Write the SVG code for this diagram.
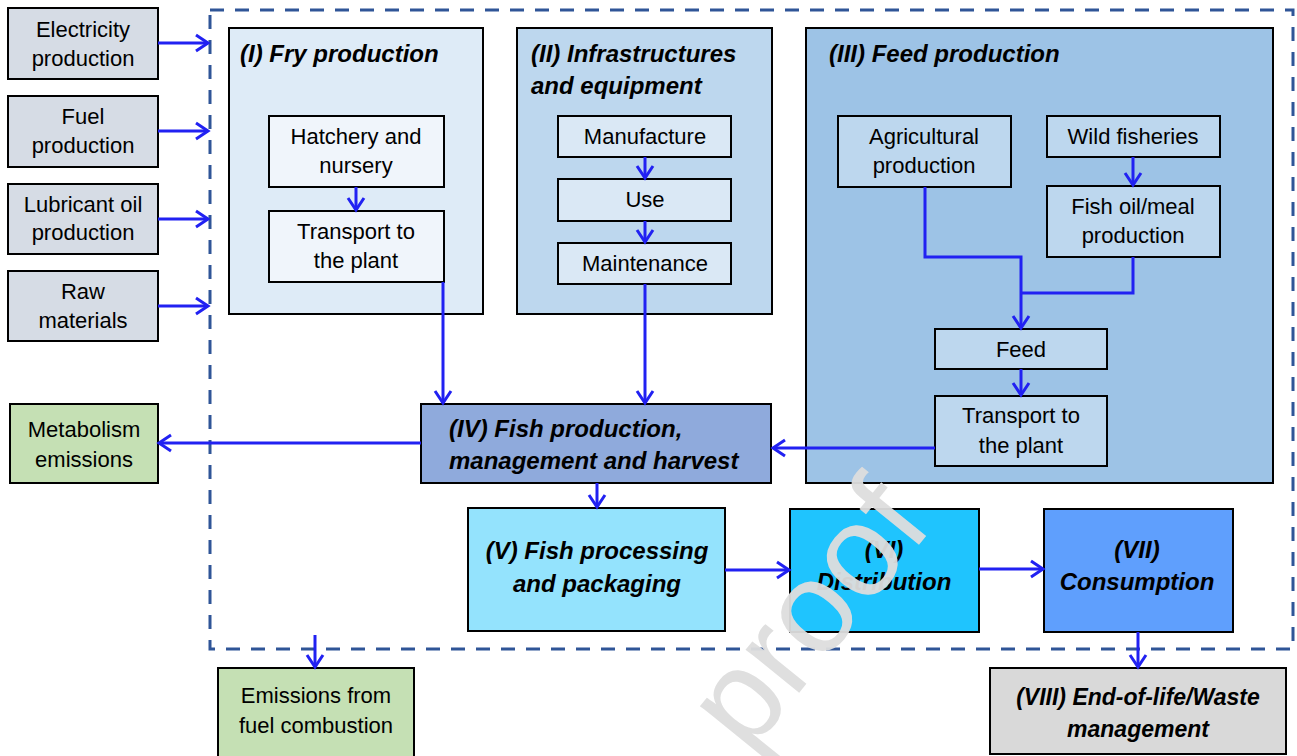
<svg xmlns="http://www.w3.org/2000/svg" width="1297" height="756" viewBox="0 0 1297 756">
<style>
.box{stroke:#000;stroke-width:2}
.t{font-family:"Liberation Sans",Arial,sans-serif;font-size:22px;fill:#000;text-anchor:middle}
.b{font-family:"Liberation Sans",Arial,sans-serif;font-size:24px;font-weight:bold;font-style:italic;fill:#000}
.c{text-anchor:middle}
.con{fill:none;stroke:#2121f2;stroke-width:3}
</style>
<defs>
<marker id="ah" markerUnits="userSpaceOnUse" markerWidth="20" markerHeight="20" refX="15" refY="10" orient="auto">
<path d="M3,2 L15,10 L3,18" fill="none" stroke="#2121f2" stroke-width="3"/>
</marker>
</defs>
<rect width="1297" height="756" fill="#fff"/>

<g id="boundary">
<rect x="210" y="10" width="1083" height="639" fill="none" stroke="#2f5597" stroke-width="3" stroke-dasharray="14 11"/>
</g>

<g id="electricity"><rect class="box" x="8" y="8" width="150" height="71" fill="#d6dce5"/><text class="t" x="83" y="37">Electricity</text><text class="t" x="83" y="66">production</text></g>
<g id="fuel"><rect class="box" x="8" y="96" width="150" height="71" fill="#d6dce5"/><text class="t" x="83" y="124">Fuel</text><text class="t" x="83" y="153">production</text></g>
<g id="lubricant"><rect class="box" x="8" y="184" width="150" height="70" fill="#d6dce5"/><text class="t" x="83" y="212">Lubricant oil</text><text class="t" x="83" y="240">production</text></g>
<g id="raw"><rect class="box" x="8" y="271" width="150" height="70" fill="#d6dce5"/><text class="t" x="83" y="299">Raw</text><text class="t" x="83" y="328">materials</text></g>

<g id="fry"><rect class="box" x="229" y="28" width="254" height="286" fill="#deebf7"/><text class="b" x="240" y="62">(I) Fry production</text></g>
<g id="hatchery"><rect class="box" x="269" y="116" width="175" height="71" fill="#f0f5fb"/><text class="t" x="356" y="144">Hatchery and</text><text class="t" x="356" y="173">nursery</text></g>
<g id="transport1"><rect class="box" x="269" y="211" width="175" height="71" fill="#f0f5fb"/><text class="t" x="356" y="239">Transport to</text><text class="t" x="356" y="268">the plant</text></g>

<g id="infra"><rect class="box" x="517" y="28" width="255" height="286" fill="#bdd7ee"/><text class="b" x="531" y="62">(II) Infrastructures</text><text class="b" x="531" y="94">and equipment</text></g>
<g id="manufacture"><rect class="box" x="558" y="116" width="173" height="41" fill="#dae8f5"/><text class="t" x="645" y="144">Manufacture</text></g>
<g id="use"><rect class="box" x="558" y="179" width="173" height="42" fill="#dae8f5"/><text class="t" x="645" y="207">Use</text></g>
<g id="maintenance"><rect class="box" x="558" y="243" width="173" height="41" fill="#dae8f5"/><text class="t" x="645" y="271">Maintenance</text></g>

<g id="feedprod"><rect class="box" x="806" y="28" width="467" height="455" fill="#9dc3e6"/><text class="b" x="829" y="62">(III) Feed production</text></g>
<g id="agri"><rect class="box" x="838" y="116" width="173" height="71" fill="#bdd7ee"/><text class="t" x="924" y="144">Agricultural</text><text class="t" x="924" y="173">production</text></g>
<g id="wild"><rect class="box" x="1047" y="116" width="173" height="41" fill="#bdd7ee"/><text class="t" x="1133" y="144">Wild fisheries</text></g>
<g id="fishoil"><rect class="box" x="1047" y="186" width="173" height="71" fill="#bdd7ee"/><text class="t" x="1133" y="214">Fish oil/meal</text><text class="t" x="1133" y="243">production</text></g>
<g id="feed"><rect class="box" x="935" y="329" width="172" height="40" fill="#bdd7ee"/><text class="t" x="1021" y="357">Feed</text></g>
<g id="transport3"><rect class="box" x="935" y="396" width="172" height="70" fill="#bdd7ee"/><text class="t" x="1021" y="423">Transport to</text><text class="t" x="1021" y="453">the plant</text></g>

<g id="fishprod"><rect class="box" x="421" y="404" width="350" height="79" fill="#8faadc"/><text class="b" x="449" y="437">(IV) Fish production,</text><text class="b" x="449" y="469">management and harvest</text></g>
<g id="metabolism"><rect class="box" x="10" y="404" width="148" height="79" fill="#c5e0b4"/><text class="t" x="84" y="437">Metabolism</text><text class="t" x="84" y="467">emissions</text></g>
<g id="processing"><rect class="box" x="468" y="508" width="257" height="123" fill="#94e3fd"/><text class="b c" x="597" y="559">(V) Fish processing</text><text class="b c" x="597" y="592">and packaging</text></g>
<g id="distribution"><rect class="box" x="790" y="509" width="189" height="123" fill="#1fc4fe"/><text class="b c" x="884" y="558">(VI)</text><text class="b c" x="884" y="590">Distribution</text></g>
<g id="consumption"><rect class="box" x="1044" y="509" width="189" height="123" fill="#5f9ffd"/><text class="b c" x="1137" y="558">(VII)</text><text class="b c" x="1137" y="590">Consumption</text></g>
<g id="endoflife"><rect class="box" x="990" y="668" width="296" height="86" fill="#d9d9d9"/><text class="b c" x="1138" y="705" style="font-size:23px">(VIII) End-of-life/Waste</text><text class="b c" x="1138" y="737" style="font-size:23px">management</text></g>
<g id="fuelemis"><rect class="box" x="218" y="668" width="196" height="95" fill="#c5e0b4"/><text class="t" x="316" y="703">Emissions from</text><text class="t" x="316" y="733">fuel combustion</text></g>

<g id="connectors">
<path class="con" d="M158,43 H208" marker-end="url(#ah)"/>
<path class="con" d="M158,131 H208" marker-end="url(#ah)"/>
<path class="con" d="M158,219 H208" marker-end="url(#ah)"/>
<path class="con" d="M158,306 H208" marker-end="url(#ah)"/>
<path class="con" d="M356,187 V210" marker-end="url(#ah)"/>
<path class="con" d="M443,282 V403" marker-end="url(#ah)"/>
<path class="con" d="M645,157 V178" marker-end="url(#ah)"/>
<path class="con" d="M645,221 V242" marker-end="url(#ah)"/>
<path class="con" d="M645,284 V403" marker-end="url(#ah)"/>
<path class="con" d="M1133,157 V185" marker-end="url(#ah)"/>
<path class="con" d="M925,187 V257 H1021 V328" marker-end="url(#ah)"/>
<path class="con" d="M1133,257 V293 H1021"/>
<path class="con" d="M1021,369 V395" marker-end="url(#ah)"/>
<path class="con" d="M935,448 H773" marker-end="url(#ah)"/>
<path class="con" d="M421,443 H159" marker-end="url(#ah)"/>
<path class="con" d="M597,483 V507" marker-end="url(#ah)"/>
<path class="con" d="M725,570 H789" marker-end="url(#ah)"/>
<path class="con" d="M979,569 H1043" marker-end="url(#ah)"/>
<path class="con" d="M1138,632 V667" marker-end="url(#ah)"/>
<path class="con" d="M315,635 V667" marker-end="url(#ah)"/>
</g>

<g id="watermark">
<text x="748" y="756" transform="rotate(-51 748 756)" style="font-family:'Liberation Sans',Arial,sans-serif;font-size:130px;fill:#dedede;opacity:0.95">proof</text>
</g>
</svg>
